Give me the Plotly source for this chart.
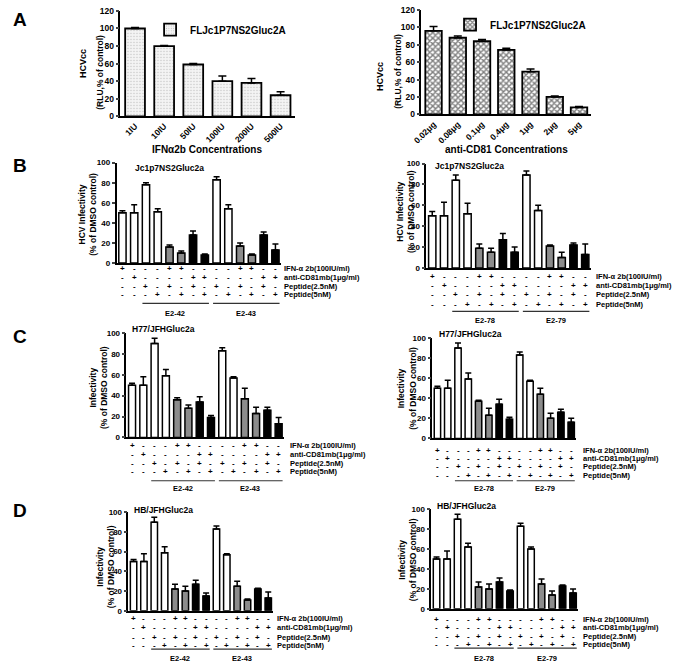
import plotly.graph_objects as go

W, H = 675, 667
FONT = "Liberation Sans, Arial, Helvetica, sans-serif"

# ---------------- DATA ----------------
ifn_conc = ["1IU", "10IU", "50IU", "100IU", "200IU", "500IU"]
ifn_vals = [100, 80, 59, 40, 38, 24]
ifn_err = [1, 0.5, 1, 6, 5, 4]

cd81_conc = ["0.02μg", "0.08μg", "0.1μg", "0.4μg", "1μg", "2μg", "5μg"]
cd81_vals = [96, 88, 84, 74, 49, 20, 8]
cd81_err = [5, 2, 2, 2, 3, 1, 1]

legend_name = "FLJc1P7NS2Gluc2A"

# +/- treatment table (14 columns)
ifn_row = list("+---++----++--")
cd81_row = list("-+----++----++")
pep25_row = list("--+-+-+-+-+-+-")
pep5_row = list("---+-+-+-+-+-+")
row_labels = ["IFN-α 2b(100IU/ml)", "anti-CD81mb(1μg/ml)", "Peptide(2.5nM)", "Peptide(5nM)"]
groups_left = ["E2-42", "E2-43"]
groups_right = ["E2-78", "E2-79"]

b_left_vals = [50, 50, 78, 51, 16, 10, 28, 8, 83, 54, 17, 8, 28, 13]
b_left_err = [2, 8, 2, 3, 2, 2, 4, 1, 3, 4, 3, 1, 3, 6]
b_right_vals = [50, 50, 84, 52, 19, 15, 27, 15, 89, 55, 21, 10, 22, 13]
b_right_err = [4, 13, 5, 10, 4, 4, 6, 5, 4, 5, 1, 5, 2, 10]
c_left_vals = [50, 50, 90, 59, 36, 28, 34, 19, 83, 57, 37, 23, 26, 13]
c_left_err = [2, 8, 5, 6, 2, 3, 5, 2, 3, 1, 10, 6, 3, 6]
c_right_vals = [50, 50, 90, 59, 37, 23, 34, 19, 83, 57, 44, 20, 26, 16]
c_right_err = [2, 8, 5, 6, 1, 7, 5, 2, 3, 1, 6, 5, 3, 4]
d_left_vals = [50, 50, 90, 59, 22, 20, 27, 15, 83, 57, 25, 11, 22, 13]
d_left_err = [2, 8, 5, 6, 5, 5, 4, 3, 3, 1, 5, 1, 1, 6]
d_right_vals = [50, 50, 90, 62, 22, 20, 27, 18, 83, 60, 25, 14, 23, 16]
d_right_err = [2, 8, 5, 4, 5, 5, 4, 1, 3, 2, 5, 4, 1, 4]


# ---------------- HELPERS ----------------
def fx(p):
    return p / W


def fy(p):
    return 1 - p / H


def bfont(size, color="black"):
    return dict(family=FONT, size=size, color=color, weight="bold")


annotations = []
shapes = []


def ann(text, x, y, size, xanchor="center", yanchor="middle", xref="paper", yref="paper", angle=0):
    annotations.append(dict(text=text, x=x, y=y, xref=xref, yref=yref, xanchor=xanchor,
                            yanchor=yanchor, showarrow=False, font=bfont(size), textangle=angle))


fig = go.Figure()

AX_LINE = dict(showline=True, linecolor="black", linewidth=1.5, showgrid=False, zeroline=False)

# ---------------- PANEL A ----------------
fig.add_trace(go.Bar(
    x=ifn_conc, y=ifn_vals, width=0.68, name=legend_name, legend="legend",
    marker=dict(color="#f0f0f0", line=dict(color="black", width=1.8),
                pattern=dict(shape=".", fgcolor="#888888", bgcolor="#f4f4f4", size=3, solidity=0.15)),
    error_y=dict(type="data", array=ifn_err, arrayminus=[0] * len(ifn_err), color="black", thickness=1.5, width=4),
    xaxis="x", yaxis="y"))
fig.add_trace(go.Bar(
    x=cd81_conc, y=cd81_vals, width=0.68, name=legend_name, legend="legend2",
    marker=dict(color="#555555", line=dict(color="black", width=1.8),
                pattern=dict(shape="x", fgcolor="black", bgcolor="white", size=4, solidity=0.6)),
    error_y=dict(type="data", array=cd81_err, arrayminus=[0] * len(cd81_err), color="black", thickness=1.5, width=4),
    xaxis="x2", yaxis="y2"))

layout = dict(
    width=W, height=H, margin=dict(l=0, r=0, t=0, b=0),
    paper_bgcolor="white", plot_bgcolor="white",
    font=bfont(9), barmode="group", showlegend=True,
    xaxis=dict(domain=[fx(113), fx(290)], anchor="y", tickangle=-45, ticks="", tickfont=bfont(8.5), **AX_LINE),
    yaxis=dict(domain=[fy(113), fy(6)], anchor="x", range=[0, 120], dtick=20, ticks="outside", ticklen=3,
               tickwidth=1.5, tickfont=bfont(8.5), **AX_LINE),
    xaxis2=dict(domain=[fx(418), fx(590)], anchor="y2", tickangle=-45, ticks="", tickfont=bfont(8.5), **AX_LINE),
    yaxis2=dict(domain=[fy(111), fy(5)], anchor="x2", range=[0, 120], dtick=20, ticks="outside", ticklen=3,
                tickwidth=1.5, tickfont=bfont(8.5), **AX_LINE),
    legend=dict(x=fx(143), y=fy(25), xanchor="left", yanchor="middle", font=bfont(10),
                bgcolor="rgba(0,0,0,0)", itemwidth=30),
    legend2=dict(x=fx(447), y=fy(20), xanchor="left", yanchor="middle", font=bfont(10),
                 bgcolor="rgba(0,0,0,0)", itemwidth=30),
)

ann("A", fx(11), fy(15), 19)
ann("HCVcc", fx(75), fy(60), 9, angle=-90)
ann("(RLU,% of control)", fx(92), fy(68), 8.5, angle=-90)
ann("IFNα2b Concentrations", fx(201), fy(147), 10)
ann("HCVcc", fx(376), fy(72), 9, angle=-90)
ann("(RLU,% of control)", fx(394), fy(67), 8.5, angle=-90)
ann("anti-CD81 Concentrations", fx(504), fy(147), 10)

# ---------------- PANELS B-D ----------------
ncol = len(ifn_row)
cols = list(range(ncol))


def bar_color(i):
    pep = pep25_row[i] == "+" or pep5_row[i] == "+"
    if pep and ifn_row[i] == "+":
        return "#8c8c8c"
    if pep and cd81_row[i] == "+":
        return "black"
    return "white"


colors = [bar_color(i) for i in cols]
table_rows = [ifn_row, cd81_row, pep25_row, pep5_row]

panels = [
    dict(letter="B", vals=b_left_vals, err=b_left_err, xd=(109, 276), y0=262, y100=160,
         rows=(268, 277, 286, 294), labx=277, line_y=303, lab_y=313, groups=groups_left,
         title="Jc1p7NS2Gluc2a", txy=(126, 165), yt=("HCV Infectivity", "(% of DMSO control)"),
         ytx=80, yty=212, lety=163),
    dict(letter=None, vals=b_right_vals, err=b_right_err, xd=(423, 590), y0=267, y100=161,
         rows=(276, 285, 294, 304), labx=593, line_y=311, lab_y=320, groups=groups_right,
         title="Jc1p7NS2Gluc2a", txy=(430, 163), yt=("HCV Infectivity", "(% of DMSO control)"),
         ytx=402.5, yty=210),
    dict(letter="C", vals=c_left_vals, err=c_left_err, xd=(119, 279), y0=439, y100=333,
         rows=(447, 456, 465, 474), labx=283, line_y=483, lab_y=491, groups=groups_left,
         title="H77/JFHGluc2a", txy=(123, 329), yt=("Infectivity", "(% of DMSO control)"),
         ytx=90, yty=388, lety=337),
    dict(letter=None, vals=c_right_vals, err=c_right_err, xd=(429, 575), y0=440, y100=338,
         rows=(452, 460, 469, 478), labx=580, line_y=483, lab_y=491, groups=groups_right,
         title="H77/JFHGluc2a", txy=(434, 334), yt=("Infectivity", "(% of DMSO control)"),
         ytx=403, yty=389),
    dict(letter="D", vals=d_left_vals, err=d_left_err, xd=(121, 268), y0=615, y100=515,
         rows=(623, 632, 642, 650), labx=270, line_y=654, lab_y=663, groups=groups_left,
         title="HB/JFHGluc2a", txy=(125, 513), yt=("Infectivity", "(% of DMSO control)"),
         ytx=98, yty=570, lety=513),
    dict(letter=None, vals=d_right_vals, err=d_right_err, xd=(428, 577), y0=613, y100=512,
         rows=(624, 632, 641, 649), labx=580, line_y=653, lab_y=663, groups=groups_right,
         title="HB/JFHGluc2a", txy=(432, 509), yt=("Infectivity", "(% of DMSO control)"),
         ytx=404, yty=563),
]

for k, p in enumerate(panels):
    n = k + 3
    xa, ya = f"x{n}", f"y{n}"
    fig.add_trace(go.Bar(
        x=cols, y=p["vals"], width=0.62, showlegend=False,
        marker=dict(color=colors, line=dict(color="black", width=1.5)),
        error_y=dict(type="data", array=p["err"], arrayminus=[0] * ncol, color="black", thickness=1.5, width=3),
        xaxis=xa, yaxis=ya))
    layout[f"xaxis{n}"] = dict(domain=[fx(p["xd"][0]), fx(p["xd"][1])], anchor=ya, range=[-0.5, ncol - 0.5],
                               showticklabels=False, ticks="", **AX_LINE)
    layout[f"yaxis{n}"] = dict(domain=[fy(p["y0"]), fy(p["y100"])], anchor=xa, range=[0, 100], dtick=20,
                               ticks="outside", ticklen=3, tickwidth=1.5, tickfont=bfont(8), **AX_LINE)
    # +/- table
    for r, row in enumerate(table_rows):
        ypos = fy(p["rows"][r])
        for i in cols:
            ann(row[i], i, ypos, 8, xref=xa)
        ann(row_labels[r], fx(p["labx"]), ypos, 7.5, xanchor="left")
    # group underlines
    for g, (c0, c1) in enumerate([(2, 7), (8, 13)]):
        shapes.append(dict(type="line", xref=xa, yref="paper", x0=c0 - 0.3, x1=c1 + 0.35,
                           y0=fy(p["line_y"]), y1=fy(p["line_y"]), line=dict(color="#333333", width=1.2)))
        ann(p["groups"][g], (c0 + c1) / 2, fy(p["lab_y"]), 7.5, xref=xa)
    # inset title
    ann(p["title"], fx(p["txy"][0]), fy(p["txy"][1]), 8.5, xanchor="left")
    # y-axis title
    ann(p["yt"][0] + "<br>" + p["yt"][1], fx(p["ytx"]), fy(p["yty"]), 8.5, angle=-90)
    if p["letter"]:
        ann(p["letter"], fx(11), fy(p["lety"]), 19)

layout["annotations"] = annotations
layout["shapes"] = shapes
fig.update_layout(**layout)

fig.write_html("out.html", config={"displayModeBar": False},
               post_script="document.body.style.margin='0px';")
